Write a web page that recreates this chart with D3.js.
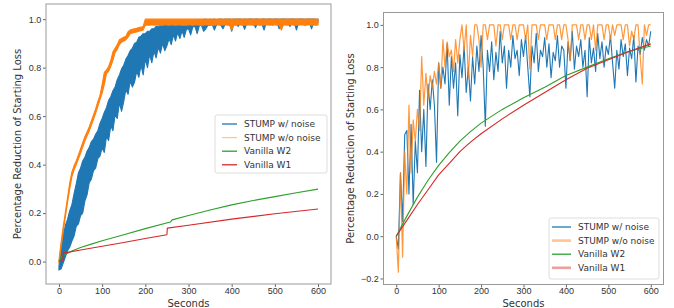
<!DOCTYPE html>
<html>
<head>
<meta charset="utf-8">
<script src="https://cdn.jsdelivr.net/npm/d3@7"></script>
<style>
body { margin: 0; background: #fff; }
svg { display: block; font-family: "DejaVu Sans", sans-serif; }
.tick text { fill: #333; font-size: 9px; }
.tick line { stroke: #666; }
.label { fill: #333; font-size: 10px; }
.legend text { fill: #333; font-size: 9px; }
</style>
</head>
<body>
<div id="chart"></div>
<script>
var seriesNames = ["STUMP w/ noise", "STUMP w/o noise", "Vanilla W2", "Vanilla W1"];
var colors = ["#1f77b4", "#ff7f0e", "#2ca02c", "#d62728"];
var xTicks = [0, 100, 200, 300, 400, 500, 600];
var leftYTicks = [0, 0.2, 0.4, 0.6, 0.8, 1.0];
var rightYTicks = [-0.2, 0, 0.2, 0.4, 0.6, 0.8, 1.0];

// sample times (seconds) for the noisy runs, every 5 s
var t5 = d3.range(0, 601, 5);

// left panel: dense runs shown as their band (upper / lower edge)
var leftNoiseHi = [
  -0.02,0.07,0.11,0.15,0.175,0.21,0.235,0.28,0.32,0.365,
  0.385,0.415,0.43,0.455,0.47,0.495,0.505,0.525,0.54,0.57,
  0.59,0.615,0.635,0.665,0.68,0.705,0.72,0.75,0.77,0.795,
  0.81,0.835,0.85,0.87,0.88,0.9,0.905,0.925,0.93,0.94,
  0.94,0.95,0.95,0.96,0.96,0.97,0.968,0.975,0.972,0.98,
  0.978,0.985,0.982,0.988,0.985,0.99,0.988,0.993,0.99,0.995,
  0.993,0.995,0.996,0.995,0.997,0.998,0.996,0.998,1.0,0.997,
  0.999,0.998,1.0,0.997,0.999,1.0,0.998,1.0,0.999,1.0,
  0.998,1.0,0.999,1.0,1.0,0.998,1.0,0.999,1.0,1.0,
  0.999,1.0,1.0,0.998,1.0,1.0,0.999,1.0,1.0,0.999,
  1.0,1.0,0.999,1.0,1.0,1.0,0.999,1.0,1.0,1.0,
  0.999,1.0,1.0,1.0,0.999,1.0,1.0,1.0,1.0,0.999,
  1.0
];
var leftNoiseLo = [
  -0.035,-0.03,-0.005,0.02,0.045,0.06,0.085,0.105,0.145,0.155,
  0.19,0.2,0.25,0.275,0.325,0.34,0.375,0.385,0.425,0.435,
  0.47,0.45,0.515,0.5,0.56,0.54,0.605,0.59,0.655,0.62,
  0.66,0.71,0.69,0.745,0.72,0.74,0.785,0.76,0.81,0.77,
  0.835,0.8,0.855,0.82,0.868,0.84,0.885,0.86,0.9,0.87,
  0.89,0.92,0.895,0.935,0.91,0.945,0.92,0.952,0.925,0.957,
  0.96,0.935,0.968,0.97,0.94,0.972,0.975,0.95,0.96,0.975,
  0.975,0.978,0.955,0.977,0.98,0.975,0.96,0.98,0.978,0.982,
  0.95,0.98,0.982,0.97,0.983,0.98,0.958,0.982,0.984,0.98,
  0.985,0.965,0.983,0.985,0.98,0.955,0.985,0.984,0.986,0.975,
  0.985,0.986,0.96,0.985,0.987,0.984,0.986,0.97,0.987,0.985,
  0.955,0.986,0.987,0.985,0.975,0.987,0.986,0.96,0.987,0.986,
  0.987
];
var leftCleanHi = [
  0.005,0.08,0.145,0.205,0.265,0.325,0.37,0.395,0.415,0.44,
  0.465,0.49,0.515,0.535,0.555,0.58,0.605,0.63,0.66,0.685,
  0.73,0.78,0.79,0.805,0.83,0.865,0.88,0.895,0.915,0.92,
  0.925,0.93,0.948,0.955,0.958,0.96,0.962,0.965,0.967,0.97,
  1,1,1,1,1,1,1,1,1,1,
  1,1,1,1,1,1,1,1,1,1,
  1,1,1,1,1,1,1,1,1,1,
  1,1,1,1,1,1,1,1,1,1,
  1,1,1,1,1,1,1,1,1,1,
  1,1,1,1,1,1,1,1,1,1,
  1,1,1,1,1,1,1,1,1,1,
  1,1,1,1,1,1,1,1,1,1,
  1
];
var leftCleanLo = [
  -0.005,0.06,0.125,0.185,0.245,0.3,0.35,0.378,0.4,0.423,
  0.447,0.472,0.497,0.518,0.538,0.562,0.587,0.612,0.64,0.668,
  0.695,0.73,0.775,0.785,0.805,0.83,0.862,0.875,0.895,0.905,
  0.91,0.915,0.925,0.94,0.943,0.945,0.947,0.95,0.952,0.955,
  0.975,0.976,0.975,0.977,0.975,0.976,0.975,0.976,0.975,0.977,
  0.976,0.975,0.977,0.976,0.975,0.976,0.977,0.975,0.976,0.975,
  0.977,0.976,0.975,0.976,0.977,0.975,0.976,0.975,0.977,0.976,
  0.975,0.976,0.975,0.977,0.976,0.975,0.976,0.977,0.975,0.976,
  0.955,0.976,0.975,0.977,0.976,0.975,0.976,0.975,0.977,0.976,
  0.975,0.976,0.977,0.975,0.976,0.975,0.977,0.976,0.975,0.976,
  0.977,0.975,0.976,0.955,0.977,0.976,0.975,0.976,0.977,0.975,
  0.976,0.975,0.977,0.976,0.975,0.976,0.977,0.975,0.976,0.975,
  0.976
];
var leftW2T = [0, 5, 10, 20, 30, 50, 75, 100, 150, 200, 258, 262, 300, 350, 400, 450, 500, 550, 600];
var leftW2V = [0, 0.018, 0.024, 0.034, 0.044, 0.058, 0.072, 0.086, 0.111, 0.136, 0.163, 0.172, 0.19, 0.213, 0.234, 0.252, 0.268, 0.284, 0.299];
var leftW1T = [0, 9, 10, 50, 100, 150, 200, 250, 251, 300, 400, 500, 600];
var leftW1V = [0, 0.003, 0.035, 0.048, 0.063, 0.079, 0.095, 0.111, 0.138, 0.15, 0.175, 0.197, 0.217];

// right panel: one value per 5 s
var rightNoise = [
  0.0,-0.06,0.3,0.07,0.48,0.5,0.2,0.53,0.15,0.45,
  0.3,0.69,0.4,0.6,0.33,0.72,0.6,0.74,0.62,0.35,
  0.82,0.7,0.8,0.72,0.91,0.62,0.85,0.7,0.82,0.57,
  0.86,0.75,0.9,0.68,0.8,0.64,0.85,0.72,0.9,0.78,
  0.95,0.8,0.52,0.88,0.78,0.92,0.74,0.87,0.78,0.97,
  0.82,0.9,0.7,0.88,0.8,0.95,0.84,0.88,0.76,0.93,
  0.85,0.95,0.8,0.66,0.9,0.82,0.96,0.78,0.88,0.85,
  0.94,0.8,0.91,0.75,0.87,0.83,0.95,0.8,0.9,0.88,
  0.7,0.92,0.83,0.97,0.79,0.9,0.85,0.93,0.8,0.88,
  0.66,0.94,0.82,0.89,0.78,0.96,0.84,0.92,0.8,0.9,
  0.86,0.95,0.82,0.7,0.88,0.79,0.93,0.85,0.91,0.76,
  0.89,0.84,0.95,0.73,0.9,0.86,0.94,0.88,0.93,0.9,
  0.97
];
var rightClean = [
  0.0,-0.17,0.3,-0.1,0.4,0.2,0.62,0.3,0.55,0.45,
  0.6,0.5,0.85,0.62,0.77,0.65,0.76,0.7,0.78,0.72,
  0.82,0.7,0.93,0.8,0.92,0.85,0.88,0.78,0.93,0.82,
  0.93,1.0,0.88,1.0,0.75,0.95,0.85,1.0,1.0,0.93,
  0.8,1.0,1.0,0.93,1.0,1.0,1.0,0.9,1.0,1.0,
  0.93,1.0,1.0,1.0,0.93,1.0,1.0,0.93,1.0,1.0,
  1.0,0.93,1.0,0.79,1.0,1.0,1.0,0.93,1.0,1.0,
  1.0,0.93,1.0,1.0,1.0,0.93,1.0,1.0,0.93,1.0,
  1.0,0.93,0.83,1.0,1.0,1.0,0.93,1.0,1.0,0.93,
  1.0,1.0,0.93,1.0,0.88,1.0,1.0,1.0,0.93,1.0,
  1.0,0.93,1.0,0.95,1.0,1.0,1.0,0.93,1.0,1.0,
  0.9,0.97,0.93,1.0,1.0,0.85,0.72,1.0,0.95,1.0,
  1.0
];
var rightW2T = [0, 25, 50, 75, 100, 125, 150, 175, 200, 250, 300, 350, 400, 450, 500, 550, 600];
var rightW2V = [0, 0.095, 0.185, 0.265, 0.335, 0.395, 0.45, 0.495, 0.535, 0.6, 0.655, 0.705, 0.76, 0.8, 0.84, 0.875, 0.9];
var rightW1T = [0, 25, 50, 75, 100, 125, 150, 175, 200, 250, 300, 350, 400, 450, 500, 550, 600];
var rightW1V = [0, 0.075, 0.15, 0.22, 0.29, 0.345, 0.4, 0.445, 0.485, 0.555, 0.62, 0.68, 0.74, 0.795, 0.835, 0.875, 0.91];

var width = 674, height = 308;
var svg = d3.select("#chart").append("svg")
    .attr("width", width).attr("height", height);

function makePanel(box, yDomain, yTicks) {
  var x = d3.scaleLinear().domain([-30, 630]).range([box.left, box.right]);
  var y = d3.scaleLinear().domain(yDomain).range([box.bottom, box.top]);
  var g = svg.append("g");

  g.append("g")
    .attr("transform", "translate(0," + box.bottom + ")")
    .call(d3.axisBottom(x).tickValues(xTicks).tickSize(3).tickPadding(0.5).tickFormat(d3.format("d")))
    .call(function(a) { a.select(".domain").remove(); });
  g.append("g")
    .attr("transform", "translate(" + box.left + ",0)")
    .call(d3.axisLeft(y).tickValues(yTicks).tickSize(3).tickPadding(1.8).tickFormat(d3.format(".1f")))
    .call(function(a) { a.select(".domain").remove(); });

  g.append("rect")
    .attr("x", box.left).attr("y", box.top)
    .attr("width", box.right - box.left).attr("height", box.bottom - box.top)
    .attr("fill", "none").attr("stroke", "#999").attr("stroke-width", 1);

  g.append("text").attr("class", "label")
    .attr("text-anchor", "middle")
    .attr("x", (box.left + box.right) / 2).attr("y", 306.5)
    .text("Seconds");
  g.append("text").attr("class", "label")
    .attr("text-anchor", "middle")
    .attr("transform", "translate(" + box.ylab + "," + ((box.top + box.bottom) / 2) + ") rotate(-90)")
    .attr("dy", "0.35em")
    .text("Percentage Reduction of Starting Loss");

  var plot = g.append("g");
  return {x: x, y: y, g: g, plot: plot};
}

function drawLine(p, ts, vs, color, w, op) {
  var line = d3.line()
    .x(function(d) { return p.x(ts[d]); })
    .y(function(d) { return p.y(vs[d]); });
  p.plot.append("path")
    .attr("d", line(d3.range(ts.length)))
    .attr("fill", "none")
    .attr("stroke", color)
    .attr("stroke-width", w)
    .attr("stroke-opacity", op)
    .attr("stroke-linejoin", "round");
}

function drawBand(p, ts, lo, hi, color) {
  var area = d3.area()
    .x(function(d) { return p.x(ts[d]); })
    .y0(function(d) { return p.y(lo[d]); })
    .y1(function(d) { return p.y(hi[d]); });
  p.plot.append("path")
    .attr("d", area(d3.range(ts.length)))
    .attr("fill", color)
    .attr("stroke", color)
    .attr("stroke-width", 1.1)
    .attr("stroke-linejoin", "round");
}

function drawLegend(box, lens) {
  var lg = svg.append("g").attr("class", "legend");
  lg.append("rect")
    .attr("x", box.x).attr("y", box.y).attr("width", box.w).attr("height", box.h)
    .attr("rx", 2).attr("fill", "#fff").attr("fill-opacity", 0.85)
    .attr("stroke", "#ddd").attr("stroke-width", 1);
  var row = lg.selectAll("g.row").data(seriesNames).enter().append("g")
    .attr("class", "row")
    .attr("transform", function(d, i) { return "translate(" + box.x + "," + (box.y + 9 + i * 13.6) + ")"; });
  row.append("line")
    .attr("x1", lens[0]).attr("x2", lens[1])
    .attr("stroke", function(d, i) { return colors[i]; })
    .attr("stroke-width", function(d, i) { return box.wide[i] ? 2.6 : 1.3; })
    .attr("stroke-opacity", function(d, i) { return box.fade[i] ? 0.45 : 1; });
  row.append("text")
    .attr("x", 29).attr("dy", "0.35em")
    .text(function(d) { return d; });
}

// left panel
var left = makePanel({left: 46, right: 331, top: 4, bottom: 284, ylab: 17}, [-0.0925, 1.0625], leftYTicks);
drawBand(left, t5, leftNoiseLo, leftNoiseHi, colors[0]);
drawBand(left, t5, leftCleanLo, leftCleanHi, colors[1]);
drawLine(left, leftW2T, leftW2V, colors[2], 1.1, 1);
drawLine(left, leftW1T, leftW1V, colors[3], 1.1, 1);
drawLegend({x: 215, y: 115, w: 112, h: 58, wide: [false, false, false, false], fade: [false, true, false, false]}, [7, 22]);

// right panel
var right = makePanel({left: 383.5, right: 663.5, top: 12.5, bottom: 284.5, ylab: 350}, [-0.2285, 1.0585], rightYTicks);
drawLine(right, t5, rightNoise, colors[0], 1.1, 1);
drawLine(right, t5, rightClean, colors[1], 1.2, 0.8);
drawLine(right, rightW2T, rightW2V, colors[2], 1.1, 1);
drawLine(right, rightW1T, rightW1V, colors[3], 1.1, 1);
drawLegend({x: 549, y: 218, w: 110, h: 61, wide: [false, true, false, true], fade: [false, true, false, true]}, [3, 22]);
</script>
</body>
</html>
